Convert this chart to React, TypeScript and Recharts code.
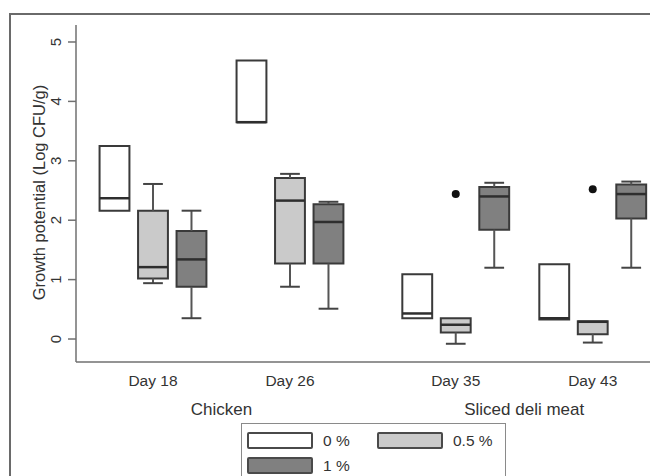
import React from 'react';
import { ComposedChart, XAxis, YAxis, Scatter, ReferenceArea, ReferenceLine } from 'recharts';

// ---- data ----
const days = ['Day 18', 'Day 26', 'Day 35', 'Day 43'];
const products = ['Chicken', 'Sliced deli meat'];
const levels = ['0 %', '0.5 %', '1 %'];
const yTicks = [0, 1, 2, 3, 4, 5];

// [min, q1, median, q3, max] for each day
const pct0 = [
  [2.16, 2.16, 2.37, 3.25, 3.25],
  [3.65, 3.65, 3.65, 4.69, 4.69],
  [0.35, 0.35, 0.43, 1.09, 1.09],
  [0.33, 0.33, 0.35, 1.26, 1.26],
];
const pct05 = [
  [0.94, 1.02, 1.21, 2.16, 2.61],
  [0.88, 1.27, 2.33, 2.71, 2.78],
  [-0.08, 0.11, 0.24, 0.35, 0.35],
  [-0.06, 0.08, 0.29, 0.3, 0.3],
];
const pct1 = [
  [0.35, 0.88, 1.34, 1.82, 2.16],
  [0.51, 1.27, 1.97, 2.27, 2.31],
  [1.2, 1.84, 2.4, 2.56, 2.63],
  [1.2, 2.03, 2.44, 2.6, 2.65],
];
// outliers of the 0.5 % group, per day
const outliers05 = [null, null, 2.44, 2.52];

// ---- layout ----
const dayX = [0, 1, 2.21, 3.21];
const productX = [0.5, 2.71];
const levelOffset = [-0.281, 0, 0.281];
const fills = ['#ffffff', '#cacaca', '#808080'];
const BOX_HALF = 0.109;
const CAP_HALF = 0.072;
const X_DOMAIN: [number, number] = [-0.562, 3.628];
const Y_DOMAIN: [number, number] = [-0.387, 5.286];
const FONT = 'Liberation Sans, Arial, Helvetica, sans-serif';
const TEXT = '#333';
const AXIS = '#707070';

const series = [pct0, pct05, pct1];

const outlierData = outliers05
  .map((v, i) => (v == null ? null : { x: dayX[i] + levelOffset[1], y: v }))
  .filter(Boolean) as { x: number; y: number }[];

const DayTick = (props: any) => {
  const { x, y, payload } = props;
  const idx = dayX.indexOf(payload.value);
  return (
    <text x={x} y={y + 23.5} textAnchor="middle" fontFamily={FONT} fontSize={15.5} fill={TEXT}>
      {days[idx]}
    </text>
  );
};

const ProductTick = (props: any) => {
  const { x, y, payload } = props;
  const idx = productX.indexOf(payload.value);
  return (
    <text x={x} y={y + 23} textAnchor="middle" fontFamily={FONT} fontSize={17} fill={TEXT}>
      {products[idx]}
    </text>
  );
};

const YTick = (props: any) => {
  const { x, y, payload } = props;
  const tx = x - 7;
  return (
    <text
      x={tx}
      y={y}
      textAnchor="middle"
      transform={`rotate(-90 ${tx} ${y})`}
      fontFamily={FONT}
      fontSize={15}
      fill={TEXT}
    >
      {payload.value}
    </text>
  );
};

const YLabel = (props: any) => {
  const vb = props.viewBox || { x: 0, y: 25, width: 76, height: 337 };
  const cx = vb.x + 39;
  const cy = vb.y + vb.height / 2 - 1;
  return (
    <text
      x={cx}
      y={cy}
      textAnchor="middle"
      dominantBaseline="central"
      transform={`rotate(-90 ${cx} ${cy})`}
      fontFamily={FONT}
      fontSize={16.5}
      fill={TEXT}
    >
      Growth potential (Log CFU/g)
    </text>
  );
};

const OutlierDot = (props: any) => {
  const { cx, cy } = props;
  return <circle cx={cx} cy={cy} r={4} fill="#111" />;
};

function boxElements() {
  const els: React.ReactNode[] = [];
  series.forEach((s, li) =>
    s.forEach((v, di) => {
      const cx = dayX[di] + levelOffset[li];
      const [mn, q1, md, q3, mx] = v;
      const key = `${li}-${di}`;
      if (mx > q3) {
        els.push(
          <ReferenceLine key={`wu${key}`} segment={[{ x: cx, y: q3 }, { x: cx, y: mx }]} stroke="#555" strokeWidth={2} ifOverflow="visible" />,
          <ReferenceLine key={`cu${key}`} segment={[{ x: cx - CAP_HALF, y: mx }, { x: cx + CAP_HALF, y: mx }]} stroke="#444" strokeWidth={2} ifOverflow="visible" />
        );
      }
      if (mn < q1) {
        els.push(
          <ReferenceLine key={`wl${key}`} segment={[{ x: cx, y: q1 }, { x: cx, y: mn }]} stroke="#555" strokeWidth={2} ifOverflow="visible" />,
          <ReferenceLine key={`cl${key}`} segment={[{ x: cx - CAP_HALF, y: mn }, { x: cx + CAP_HALF, y: mn }]} stroke="#444" strokeWidth={2} ifOverflow="visible" />
        );
      }
      els.push(
        <ReferenceArea
          key={`b${key}`}
          x1={cx - BOX_HALF}
          x2={cx + BOX_HALF}
          y1={q1}
          y2={q3}
          fill={fills[li]}
          fillOpacity={1}
          stroke="#3a3a3a"
          strokeWidth={2}
          strokeOpacity={1}
          ifOverflow="visible"
        />,
        <ReferenceLine
          key={`m${key}`}
          segment={[{ x: cx - BOX_HALF, y: md }, { x: cx + BOX_HALF, y: md }]}
          stroke="#2e2e2e"
          strokeWidth={2.5}
          ifOverflow="visible"
        />
      );
    })
  );
  return els;
}

const Swatch = ({ fill }: { fill: string }) => (
  <div
    style={{
      width: 62,
      height: 13,
      background: fill,
      border: '2px solid #4a4a4a',
      borderRadius: 2,
    }}
  />
);

export default function App() {
  return (
    <div style={{ position: 'absolute', left: 0, top: 0, width: 650, height: 476, overflow: 'hidden', background: '#fff' }}>
      {/* outer frame */}
      <div style={{ position: 'absolute', left: 9, top: 13, width: 700, height: 500, borderTop: '2px solid #6a6a6a', borderLeft: '2px solid #6a6a6a' }} />
      <div style={{ position: 'absolute', left: 0, top: 0 }}>
        <ComposedChart width={650} height={476} margin={{ top: 25, right: 0, bottom: 54, left: 0 }}>
          <XAxis
            type="number"
            dataKey="x"
            domain={X_DOMAIN}
            ticks={dayX}
            allowDataOverflow
            height={30}
            tickLine={false}
            tickSize={0}
            tickMargin={0}
            stroke={AXIS}
            strokeWidth={1.5}
            tick={<DayTick />}
            interval={0}
          />
          <XAxis
            xAxisId="grp"
            type="number"
            dataKey="x"
            domain={X_DOMAIN}
            ticks={productX}
            allowDataOverflow
            height={30}
            axisLine={false}
            tickLine={false}
            tickSize={0}
            tickMargin={0}
            tick={<ProductTick />}
            interval={0}
          />
          <YAxis
            type="number"
            domain={Y_DOMAIN}
            ticks={yTicks}
            allowDataOverflow
            width={76}
            tickSize={8}
            tickMargin={0}
            stroke={AXIS}
            strokeWidth={1.5}
            tick={<YTick />}
            interval={0}
            label={<YLabel />}
          />
          {boxElements()}
          <Scatter data={outlierData} dataKey="y" shape={<OutlierDot />} isAnimationActive={false} />
        </ComposedChart>
      </div>
      {/* legend */}
      <div
        style={{
          position: 'absolute',
          left: 241,
          top: 423,
          width: 263,
          height: 70,
          border: '1px solid #8a8a8a',
          fontFamily: FONT,
          fontSize: 15.5,
          color: TEXT,
        }}
      >
        {levels.map((lab, i) => {
          const col = i === 1 ? 1 : 0;
          const row = i === 2 ? 1 : 0;
          return (
            <div
              key={lab}
              style={{
                position: 'absolute',
                left: 5 + col * 130,
                top: 8 + row * 25,
                display: 'flex',
                alignItems: 'center',
                height: 17,
              }}
            >
              <Swatch fill={fills[i]} />
              <span style={{ marginLeft: 10 }}>{lab}</span>
            </div>
          );
        })}
      </div>
    </div>
  );
}
